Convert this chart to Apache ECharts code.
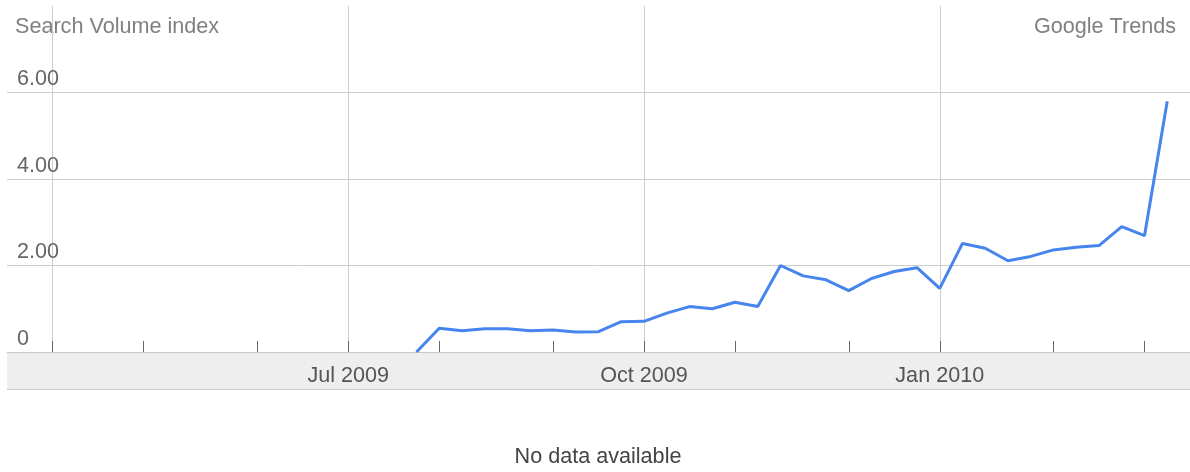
<!DOCTYPE html>
<html>
<head>
<meta charset="utf-8">
<script src="https://cdn.jsdelivr.net/npm/echarts@6/dist/echarts.min.js"></script>
<style>
html,body{margin:0;padding:0;background:#fff;}
#chart{width:1190px;height:472px;}
</style>
</head>
<body>
<div id="chart"></div>
<script>
// Weekly categories (week starting dates)
const weeks = [
  '2009-03-15','2009-03-22','2009-03-29','2009-04-05','2009-04-12','2009-04-19','2009-04-26',
  '2009-05-03','2009-05-10','2009-05-17','2009-05-24','2009-05-31','2009-06-07','2009-06-14',
  '2009-06-21','2009-06-28','2009-07-05','2009-07-12','2009-07-19','2009-07-26','2009-08-02',
  '2009-08-09','2009-08-16','2009-08-23','2009-08-30','2009-09-06','2009-09-13','2009-09-20',
  '2009-09-27','2009-10-04','2009-10-11','2009-10-18','2009-10-25','2009-11-01','2009-11-08',
  '2009-11-15','2009-11-22','2009-11-29','2009-12-06','2009-12-13','2009-12-20','2009-12-27',
  '2010-01-03','2010-01-10','2010-01-17','2010-01-24','2010-01-31','2010-02-07','2010-02-14',
  '2010-02-21','2010-02-28','2010-03-07','2010-03-14'
];
// Search volume index per week (null = no data)
const volume = [
  null,null,null,null,null,null,null,null,null,null,null,null,null,null,null,null,null,null,
  0, 0.55, 0.49, 0.54, 0.54, 0.49, 0.51, 0.46, 0.47, 0.70, 0.71, 0.90, 1.05, 1.00, 1.15, 1.05,
  2.00, 1.76, 1.67, 1.42, 1.70, 1.86, 1.95, 1.47, 2.51, 2.40, 2.11, 2.21, 2.36, 2.42, 2.46,
  2.90, 2.69, 5.80, null
];
// Weeks carrying a month tick
const monthTicks = ['2009-03-29','2009-04-26','2009-05-31','2009-06-28','2009-07-26','2009-08-30',
  '2009-09-27','2009-10-25','2009-11-29','2009-12-27','2010-01-31','2010-02-28'];
// Weeks carrying a quarter grid line
const quarterLines = ['2009-03-29','2009-06-28','2009-09-27','2009-12-27'];
// Tick labels
const tickLabels = {'2009-06-28':'Jul 2009','2009-09-27':'Oct 2009','2009-12-27':'Jan 2010'};
const yTicks = {min:0, max:8, interval:2};

const FONT = '"Liberation Sans", Arial, Helvetica, sans-serif';
const FS = 21.6;
const chart = echarts.init(document.getElementById('chart'));
const option = {
  animation:false,
  backgroundColor:'#fff',
  grid:{left:7, right:0, top:6, bottom:120, containLabel:false},
  xAxis:{
    type:'category',
    data:weeks,
    boundaryGap:false,
    axisLine:{show:true, lineStyle:{color:'#c8c8c8', width:1}},
    axisTick:{show:true, inside:true, length:11,
      interval:(i,v)=>monthTicks.includes(v),
      lineStyle:{color:'#666', width:1}},
    splitLine:{show:true, interval:(i,v)=>quarterLines.includes(v),
      lineStyle:{color:'#cccccc', width:1}},
    axisLabel:{show:true, interval:(i,v)=>v in tickLabels,
      formatter:v=>tickLabels[v]||'', margin:13,
      fontFamily:FONT, fontSize:FS, color:'#555'}
  },
  yAxis:{
    type:'value', min:yTicks.min, max:yTicks.max, interval:yTicks.interval,
    axisLine:{show:false}, axisTick:{show:false},
    splitLine:{show:true, showMaxLine:false, lineStyle:{color:'#cccccc', width:1}},
    axisLabel:{inside:true, margin:10, align:'left', verticalAlign:'bottom',
      padding:[0,0,2,0], fontFamily:FONT, fontSize:FS, color:'#666',
      formatter:v=> v===0 ? '0' : (v>=yTicks.max ? '' : v.toFixed(2))}
  },
  graphic:[
    {type:'rect', z:-10, shape:{x:7, y:352, width:1183, height:37}, style:{fill:'#eeeeee'}},
    {type:'line', z:-10, shape:{x1:7, y1:389.5, x2:1190, y2:389.5}, style:{stroke:'#cccccc', lineWidth:1}},
    {type:'text', x:15, y:27, style:{text:'Search Volume index', font:FS+'px '+FONT, fill:'#808080', textAlign:'left', textVerticalAlign:'middle'}},
    {type:'text', x:1176, y:27, style:{text:'Google Trends', font:FS+'px '+FONT, fill:'#808080', textAlign:'right', textVerticalAlign:'middle'}},
    {type:'text', x:598, y:457, style:{text:'No data available', font:FS+'px '+FONT, fill:'#444', textAlign:'center', textVerticalAlign:'middle'}}
  ],
  series:[{
    type:'line', data:volume, symbol:'none', connectNulls:false,
    lineStyle:{color:'#4684ee', width:3}, itemStyle:{color:'#4684ee'}
  }]
};
chart.setOption(option);
</script>
</body>
</html>
